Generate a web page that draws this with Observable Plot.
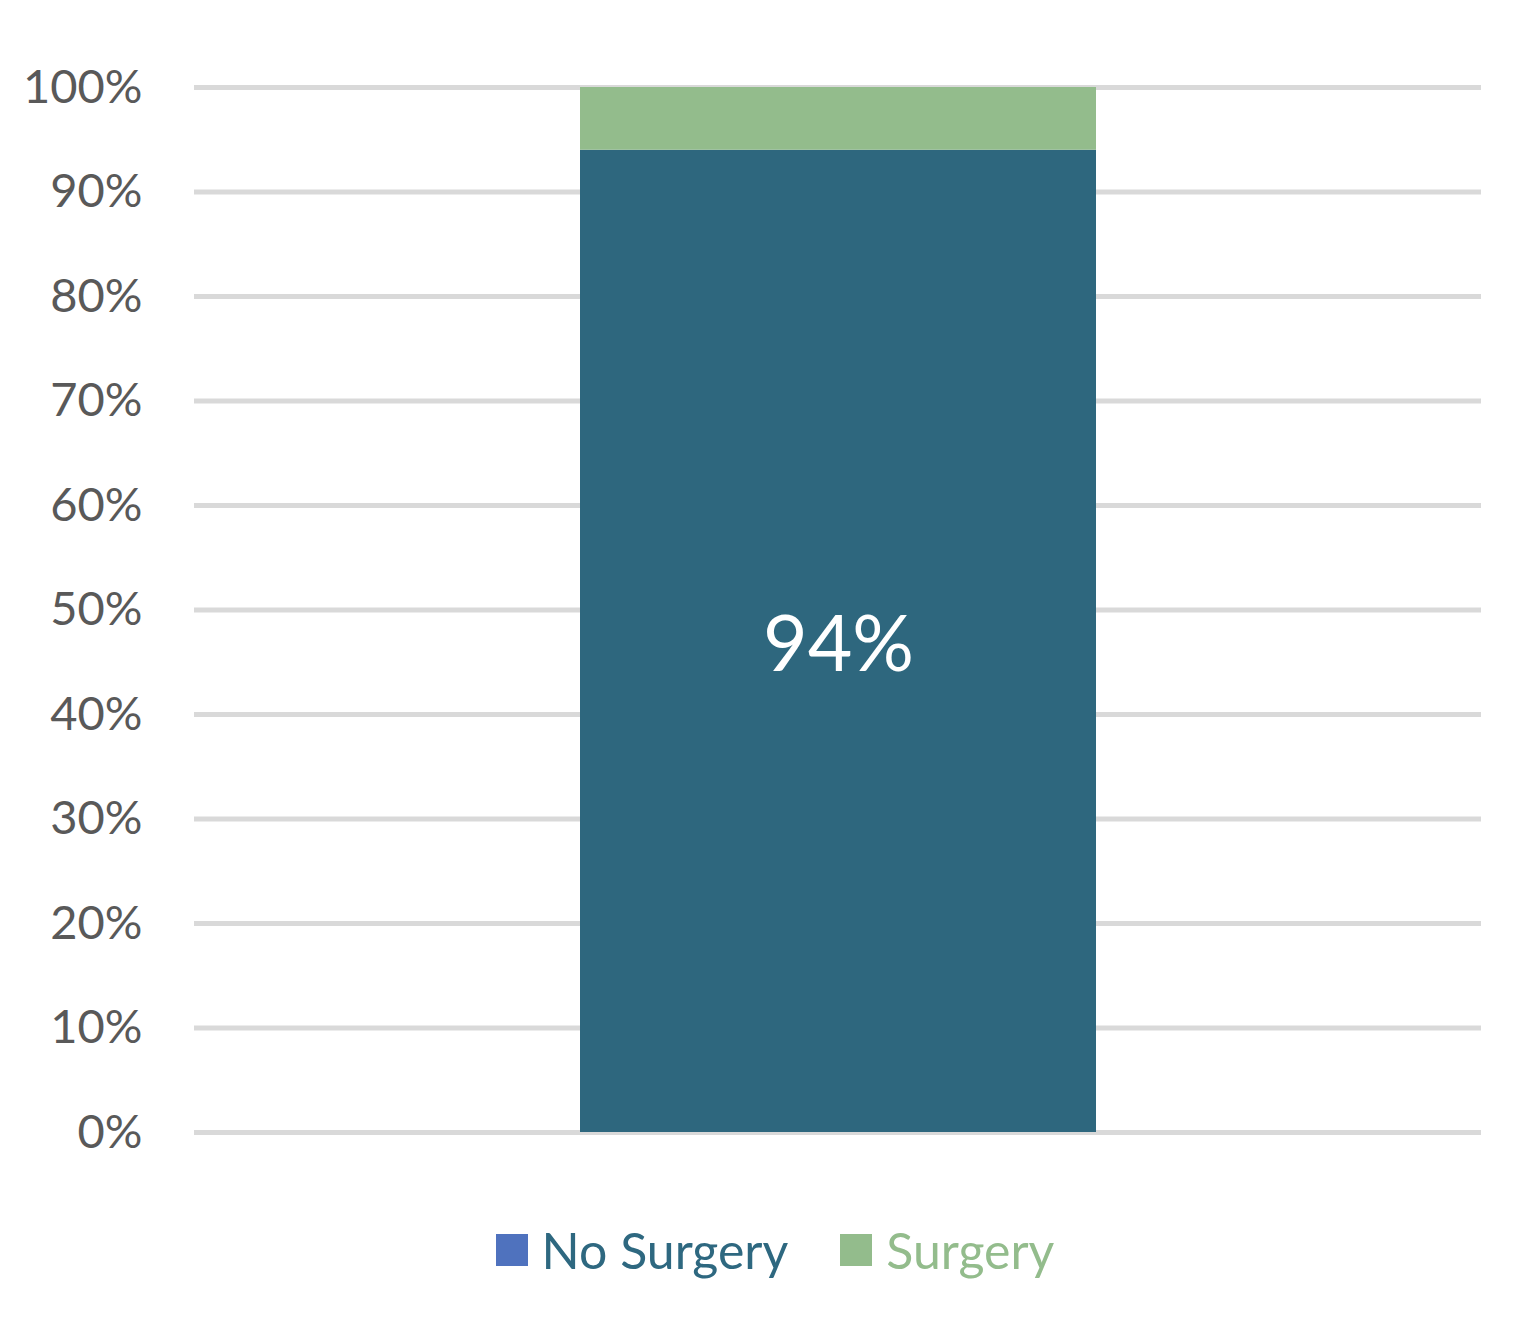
<!DOCTYPE html>
<html>
<head>
<meta charset="utf-8">
<script src="https://cdn.jsdelivr.net/npm/d3@7"></script>
<script src="https://cdn.jsdelivr.net/npm/@observablehq/plot@0.6"></script>
<style>
  body { margin: 0; background: #fff; font-family: Lato, "Open Sans", sans-serif; }
  #legend { display: flex; justify-content: center; align-items: center; gap: 0; margin-top: 30px; margin-left: 28px; font-size: 50px; }
  .item { display: flex; align-items: center; margin: 0 26px; }
  .sw { width: 32px; height: 32px; margin-right: 14px; }
</style>
</head>
<body>
<div id="chart"></div>
<div id="legend"></div>
<script>
const category = ["All"];
const seriesNames = ["No Surgery", "Surgery"];
const seriesValues = [0.94, 0.06];
const tickValues = [0, 0.1, 0.2, 0.3, 0.4, 0.5, 0.6, 0.7, 0.8, 0.9, 1.0];
const barColors = ["#2E677E", "#93BC8C"];
const legendSwatch = ["#4F72BE", "#93BC8C"];
const legendText = ["#2E6880", "#93BC8C"];

const data = seriesNames.map((s, i) => ({cat: category[0], series: s, value: seriesValues[i]}));

const chart = Plot.plot({
  width: 1522,
  height: 1190,
  marginTop: 87,
  marginBottom: 58,
  marginLeft: 194,
  marginRight: 41,
  style: {fontFamily: "Lato, 'Open Sans', sans-serif", background: "#fff"},
  x: {domain: category, padding: 0.4276, axis: null},
  y: {domain: [0, 1], ticks: tickValues, tickFormat: d => Math.round(d * 100) + "%", label: null},
  color: {domain: seriesNames, range: barColors},
  marks: [
    Plot.ruleY(tickValues, {stroke: "#D9D9D9", strokeWidth: 5}),
    Plot.axisY(tickValues, {tickSize: 0, tickPadding: 52, fontSize: 47, fill: "#595959", label: null, tickFormat: d => Math.round(d * 100) + "%"}),
    Plot.barY(data, Plot.stackY({x: "cat", y: "value", fill: "series", order: seriesNames})),
    Plot.text(data.filter(d => d.series === "No Surgery"), Plot.stackY({x: "cat", y: "value", text: d => Math.round(d.value * 100) + "%", fill: "white", fontSize: 77, dy: 5})),
  ]
});
document.getElementById("chart").appendChild(chart);

const legend = document.getElementById("legend");
seriesNames.forEach((s, i) => {
  const item = document.createElement("div");
  item.className = "item";
  const sw = document.createElement("div");
  sw.className = "sw";
  sw.style.background = legendSwatch[i];
  const t = document.createElement("span");
  t.textContent = s;
  t.style.color = legendText[i];
  item.appendChild(sw);
  item.appendChild(t);
  legend.appendChild(item);
});
</script>
</body>
</html>
